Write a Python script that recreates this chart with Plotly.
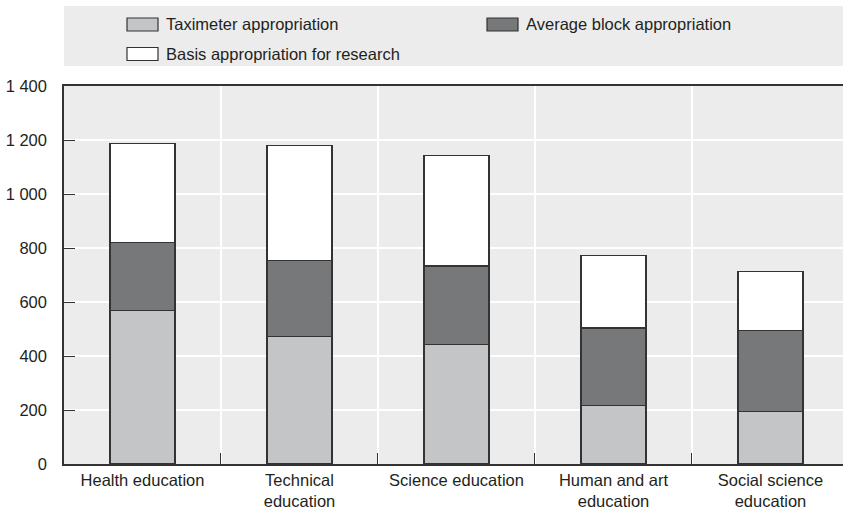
import plotly.graph_objects as go

# ---------------------------------------------------------------------
# Data
# ---------------------------------------------------------------------
categories = ["Health education", "Technical<br>education", "Science education",
              "Human and art<br>education", "Social science<br>education"]
taximeter = [568, 473, 443, 217, 194]
block = [252, 281, 290, 287, 300]
research = [368, 426, 410, 269, 220]

series_names = ["Taximeter appropriation", "Average block appropriation",
                "Basis appropriation for research"]
series_colors = ["#c4c5c7", "#77787a", "#ffffff"]

FONT = "Liberation Sans, Arial, sans-serif"
FS = 16.5
W, H = 843, 513
ML, MT, MB = 64, 86, 49
PW, PH = W - ML, H - MT - MB


def px_x(x):
    return (x - ML) / PW


def px_y(y):
    return (H - MB - y) / PH


fig = go.Figure()
for name, vals, col in zip(series_names, [taximeter, block, research], series_colors):
    fig.add_trace(go.Bar(
        x=categories, y=vals, name=name, showlegend=False,
        marker=dict(color=col, line=dict(color="#333333", width=1.2)),
    ))

# legend band + hand-made legend (wide flat swatches like the original)
shapes = [dict(type="rect", xref="paper", yref="paper", x0=0, x1=1.01,
               y0=px_y(66), y1=px_y(6), fillcolor="#ececec", line_width=0, layer="below")]
annotations = []
legend_slots = [(127, 24.5), (487, 24.5), (127, 54)]
for (lx, ly), name, col in zip(legend_slots, series_names, series_colors):
    shapes.append(dict(type="rect", xref="paper", yref="paper",
                       x0=px_x(lx), x1=px_x(lx + 31), y0=px_y(ly + 6.5), y1=px_y(ly - 6.5),
                       fillcolor=col, line=dict(color="#333333", width=1.2)))
    annotations.append(dict(text=name, xref="paper", yref="paper", x=px_x(lx + 37), y=px_y(ly),
                            xanchor="left", yanchor="middle", showarrow=False,
                            font=dict(family=FONT, size=FS, color="#231f20")))

fig.update_layout(
    barmode="stack",
    bargap=0.586,
    width=W, height=H,
    margin=dict(l=ML, r=0, t=MT, b=MB),
    paper_bgcolor="white",
    plot_bgcolor="#ececec",
    separators=". ",
    font=dict(family=FONT, size=FS, color="#231f20"),
    shapes=shapes,
    annotations=annotations,
)
fig.update_xaxes(
    type="category", range=[-0.5, 4.462], automargin=False, tickangle=0,
    tickson="boundaries", ticks="inside", ticklen=11, tickcolor="#333333",
    showgrid=True, gridcolor="white", gridwidth=1.5,
    showline=True, linecolor="#333333", linewidth=1.5, mirror=True,
    tickfont=dict(family=FONT, size=FS),
)
fig.update_yaxes(
    range=[0, 1400], dtick=200, tickformat=",d", automargin=False,
    ticks="inside", ticklen=11, tickcolor="#333333",
    showgrid=True, gridcolor="white", gridwidth=1.5,
    showline=True, linecolor="#333333", linewidth=1.5,
    zeroline=False, ticklabelstandoff=12,
    tickfont=dict(family=FONT, size=FS),
)

# page default body margin would shift the figure by 8px
fig.write_html("out.html", config={"displayModeBar": False},
               post_script="document.body.style.margin='0';document.body.style.overflow='hidden';")
